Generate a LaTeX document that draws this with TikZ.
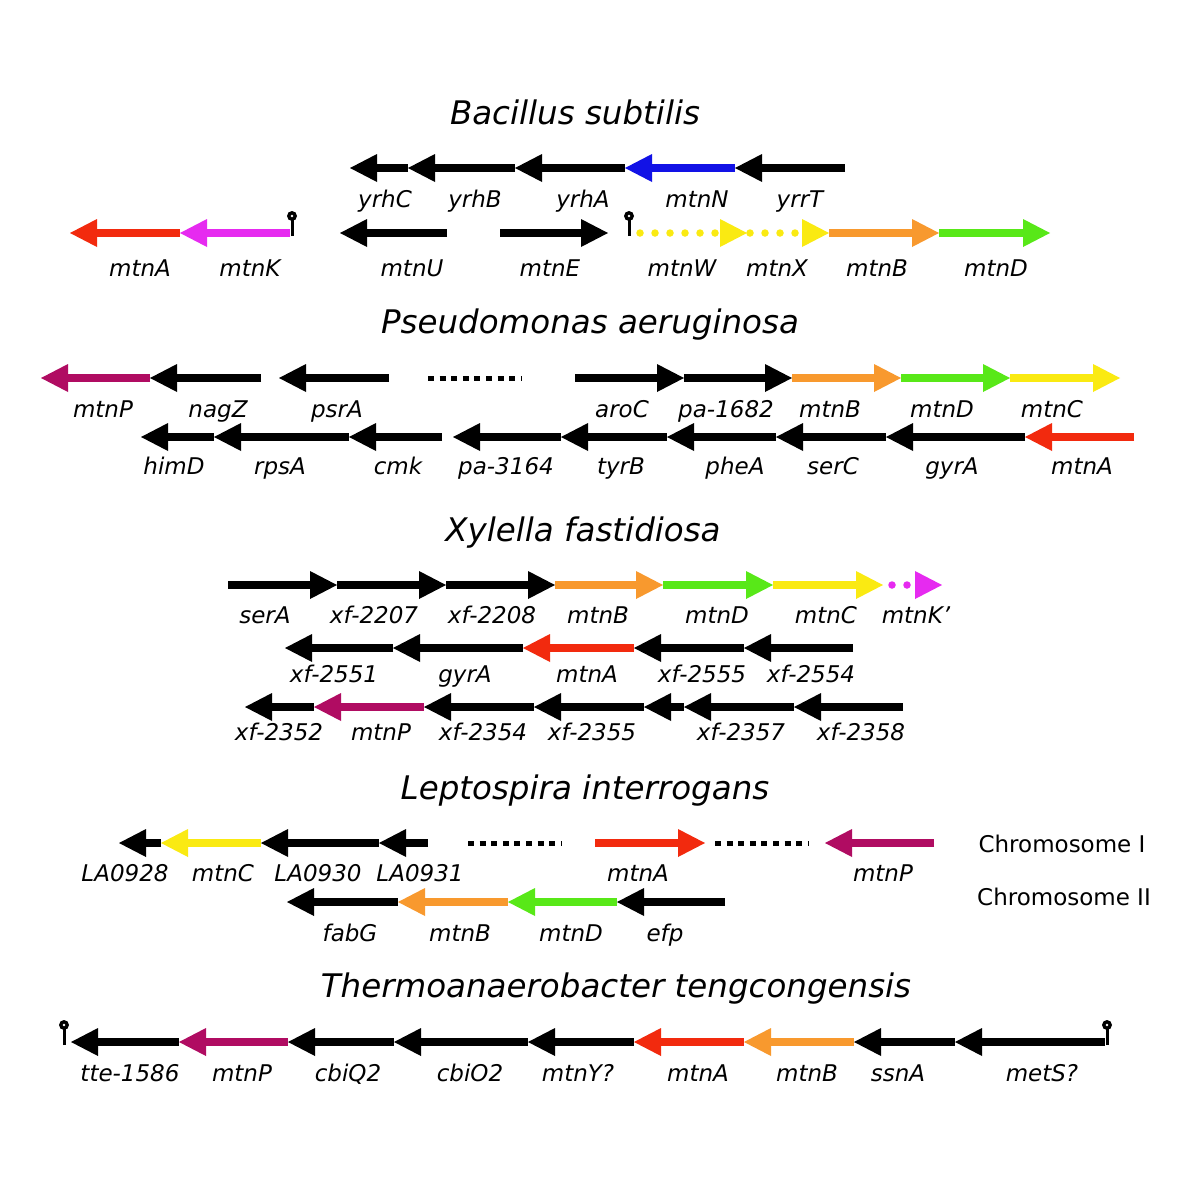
\documentclass[tikz,border=0pt]{standalone}
\usepackage{fontspec}
\setmainfont{DejaVu Sans}
\definecolor{gred}{HTML}{F22A0E}
\definecolor{gmag}{HTML}{E62AF0}
\definecolor{gblue}{HTML}{1212E6}
\definecolor{gyel}{HTML}{FAEA12}
\definecolor{gora}{HTML}{F8992E}
\definecolor{ggrn}{HTML}{58E818}
\definecolor{gpur}{HTML}{B00C62}
\tikzset{
 lab/.style={font=\fontsize{23}{23}\selectfont\itshape, anchor=base, inner sep=0pt},
 ttl/.style={font=\fontsize{32.5}{33}\selectfont\itshape, anchor=base, inner sep=0pt},
 chr/.style={font=\fontsize{23}{23}\selectfont, anchor=base, inner sep=0pt},
 gapline/.style={line width=5pt, dash pattern=on 6pt off 5.6pt},
 dotline/.style={line width=7.5pt, line cap=round, dash pattern=on 0pt off 15pt},
}
% \gene{name}{tail}{tip}{y}{colour}{label}{label x}
\newcommand\gene[7]{%
 \pgfmathsetmacro\gdir{sign(#3-#2)}%
 \pgfmathsetmacro\gbase{#3-27*\gdir}%
 \pgfmathsetmacro\gbaseb{\gbase+\gdir}%
 \draw[line width=8.5pt,#5] (#2,#4) -- (\gbaseb,#4);
 \fill[#5] (#3,#4) -- (\gbase,#4-14) -- (\gbase,#4+14) -- cycle;
 \node[lab] (#1) at (#7,#4+\labdy) {#6};
}
% head only: \ghead{tip}{y}{colour}
\newcommand\ghead[3]{%
 \fill[#3] (#1,#2) -- (#1-27,#2-14) -- (#1-27,#2+14) -- cycle;
}
% \term{x}{y of arrow}
\newcommand\term[2]{%
 \draw[line width=3pt] (#1,#2+3) -- (#1,#2-14);
 \fill (#1,#2-17) circle (5);
 \fill[white] (#1,#2-17) circle (1.4);
}
\begin{document}
\begin{tikzpicture}[x=1pt,y=-1pt]
\fill[white] (0,0) rectangle (1200,1197);
\useasboundingbox (0,0) rectangle (1200,1197);

% ---------------- Bacillus subtilis
\node[ttl] (t1) at (575,124) {Bacillus subtilis};
\def\labdy{39}
\gene{yrhC}{408}{350}{168}{black}{yrhC}{385}
\gene{yrhB}{515}{408}{168}{black}{yrhB}{475}
\gene{yrhA}{625}{515}{168}{black}{yrhA}{583}
\gene{mtnN}{735}{625}{168}{gblue}{mtnN}{697}
\gene{yrrT}{845}{735}{168}{black}{yrrT}{800}
\def\labdy{43}
\gene{bmtnA}{180}{70}{233}{gred}{mtnA}{140}
\gene{bmtnK}{290}{180}{233}{gmag}{mtnK}{250}
\term{292}{233}
\gene{mtnU}{447}{340}{233}{black}{mtnU}{412}
\gene{mtnE}{500}{608}{233}{black}{mtnE}{550}
\term{629}{233}
\draw[gyel,dotline] (640,233) -- (716,233);
\ghead{747}{233}{gyel}
\node[lab] (mtnW) at (682,276) {mtnW};
\draw[gyel,dotline] (750,233) -- (796,233);
\ghead{829}{233}{gyel}
\node[lab] (mtnX) at (777,276) {mtnX};
\gene{bmtnB}{829}{939}{233}{gora}{mtnB}{877}
\gene{bmtnD}{939}{1050}{233}{ggrn}{mtnD}{996}

% ---------------- Pseudomonas aeruginosa
\node[ttl] (t2) at (590,333) {Pseudomonas aeruginosa};
\def\labdy{39}
\gene{pmtnP}{150}{41}{378}{gpur}{mtnP}{103}
\gene{nagZ}{261}{150}{378}{black}{nagZ}{218}
\gene{psrA}{389}{279}{378}{black}{psrA}{337}
\draw[gapline] (428,378) -- (522,378);
\gene{aroC}{575}{684}{378}{black}{aroC}{622}
\gene{pa1682}{684}{792}{378}{black}{pa-1682}{726}
\gene{pmtnB}{792}{901}{378}{gora}{mtnB}{830}
\gene{pmtnD}{901}{1010}{378}{ggrn}{mtnD}{942}
\gene{pmtnC}{1010}{1120}{378}{gyel}{mtnC}{1052}
\def\labdy{37}
\gene{himD}{214}{141}{437}{black}{himD}{174}
\gene{rpsA}{349}{214}{437}{black}{rpsA}{280}
\gene{cmk}{442}{349}{437}{black}{cmk}{398}
\gene{pa3164}{561}{453}{437}{black}{pa-3164}{506}
\gene{tyrB}{667}{561}{437}{black}{tyrB}{621}
\gene{pheA}{776}{667}{437}{black}{pheA}{735}
\gene{serC}{886}{776}{437}{black}{serC}{833}
\gene{pgyrA}{1025}{886}{437}{black}{gyrA}{952}
\gene{pmtnA}{1134}{1025}{437}{gred}{mtnA}{1082}

% ---------------- Xylella fastidiosa
\node[ttl] (t3) at (583,541) {Xylella fastidiosa};
\def\labdy{38}
\gene{serA}{228}{337}{585}{black}{serA}{265}
\gene{xf2207}{337}{446}{585}{black}{xf-2207}{374}
\gene{xf2208}{446}{555}{585}{black}{xf-2208}{492}
\gene{xmtnB}{555}{663}{585}{gora}{mtnB}{598}
\gene{xmtnD}{663}{773}{585}{ggrn}{mtnD}{717}
\gene{xmtnC}{773}{883}{585}{gyel}{mtnC}{826}
\draw[gmag,dotline] (892,585) -- (908,585);
\ghead{942}{585}{gmag}
\node[lab] (mtnKp) at (916,623) {mtnK’};
\def\labdy{34}
\gene{xf2551}{393}{285}{648}{black}{xf-2551}{334}
\gene{xgyrA}{523}{393}{648}{black}{gyrA}{465}
\gene{xmtnA}{634}{523}{648}{gred}{mtnA}{587}
\gene{xf2555}{744}{634}{648}{black}{xf-2555}{702}
\gene{xf2554}{853}{744}{648}{black}{xf-2554}{811}
\def\labdy{33}
\gene{xf2352}{314}{245}{707}{black}{xf-2352}{279}
\gene{xmtnP}{424}{314}{707}{gpur}{mtnP}{381}
\gene{xf2354}{534}{424}{707}{black}{xf-2354}{483}
\gene{xf2355}{644}{534}{707}{black}{xf-2355}{592}
\gene{xf2356}{684}{644}{707}{black}{}{664}
\gene{xf2357}{794}{684}{707}{black}{xf-2357}{741}
\gene{xf2358}{903}{794}{707}{black}{xf-2358}{861}

% ---------------- Leptospira interrogans
\node[ttl] (t4) at (585,799) {Leptospira interrogans};
\def\labdy{38}
\gene{LA0928}{161}{119}{843}{black}{LA0928}{125}
\gene{lmtnC}{261}{161}{843}{gyel}{mtnC}{223}
\gene{LA0930}{379}{261}{843}{black}{LA0930}{318}
\gene{LA0931}{428}{379}{843}{black}{LA0931}{420}
\draw[gapline] (468,843) -- (562,843);
\gene{lmtnA}{595}{705}{843}{gred}{mtnA}{638}
\draw[gapline] (715,843) -- (809,843);
\gene{lmtnP}{934}{825}{843}{gpur}{mtnP}{883}
\node[chr] (chr1) at (1062,852) {Chromosome I};
\def\labdy{39}
\gene{fabG}{398}{287}{902}{black}{fabG}{350}
\gene{lmtnB}{508}{398}{902}{gora}{mtnB}{460}
\gene{lmtnD}{617}{508}{902}{ggrn}{mtnD}{571}
\gene{efp}{725}{617}{902}{black}{efp}{665}
\node[chr] (chr2) at (1064,905) {Chromosome II};

% ---------------- Thermoanaerobacter tengcongensis
\node[ttl] (t5) at (616,997) {Thermoanaerobacter tengcongensis};
\def\labdy{39}
\term{64}{1042}
\gene{tte1586}{179}{71}{1042}{black}{tte-1586}{130}
\gene{tmtnP}{288}{179}{1042}{gpur}{mtnP}{242}
\gene{cbiQ2}{394}{288}{1042}{black}{cbiQ2}{348}
\gene{cbiO2}{528}{394}{1042}{black}{cbiO2}{470}
\gene{mtnY}{634}{528}{1042}{black}{mtnY?}{578}
\gene{tmtnA}{744}{634}{1042}{gred}{mtnA}{698}
\gene{tmtnB}{854}{744}{1042}{gora}{mtnB}{807}
\gene{ssnA}{955}{854}{1042}{black}{ssnA}{898}
\gene{metS}{1105}{955}{1042}{black}{metS?}{1042}
\term{1107}{1042}
\end{tikzpicture}
\end{document}
